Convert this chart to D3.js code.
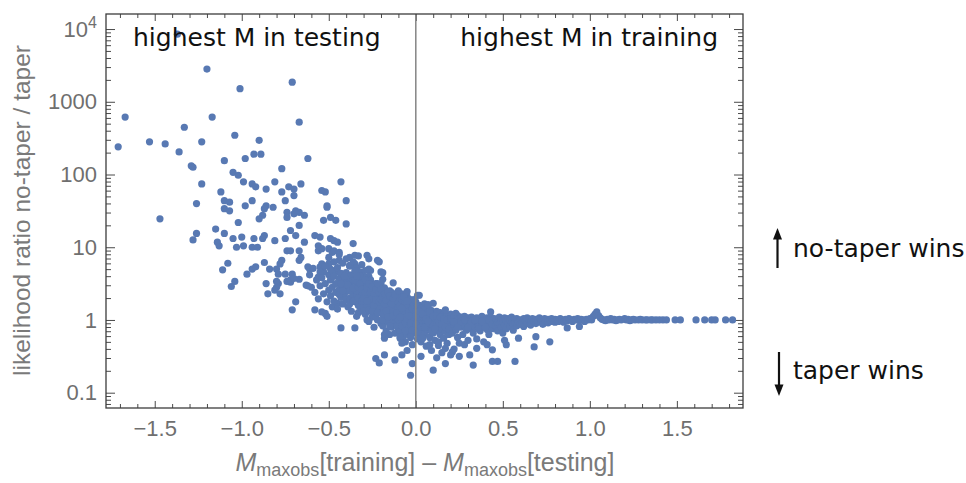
<!DOCTYPE html>
<html>
<head>
<meta charset="utf-8">
<script src="https://cdn.jsdelivr.net/npm/d3@7"></script>
<style>
  body { margin: 0; background: #fff; }
  svg { display: block; }
</style>
</head>
<body>
<svg id="chart" width="966" height="483"></svg>
<script>
// Each point: [M_maxobs(training) - M_maxobs(testing), log10 of likelihood ratio no-taper / taper]

// sparse upper tail: large ratios when the testing set holds the larger event
const tailPoints = [
  [-1.37,3.93],[-1.2,3.45],[-0.71,3.27],[-1.01,3.18],[-1.67,2.79],[-1.17,2.79],[-0.67,2.72],[-1.33,2.65],
  [-1.53,2.45],[-1.44,2.42],[-1.23,2.45],[-1.04,2.54],[-0.9,2.47],[-1.71,2.38],[-1.36,2.31],[-0.98,2.22],
  [-0.93,2.28],[-0.89,2.28],[-0.62,2.22],[-1.1,2.19],[-1.29,2.12],[-1.28,2.1],[-0.77,2.08],[-1.05,2.03],
  [-1.02,1.99],[-1.23,1.87],[-0.99,1.9],[-0.94,1.87],[-0.92,1.83],[-0.81,1.9],[-0.86,1.8],[-0.73,1.83],
  [-0.7,1.8],[-0.66,1.87],[-0.43,1.9],[-1.12,1.76],[-0.54,1.78],[-0.52,1.76],[-0.7,1.71],[-0.77,1.76],
  [-1.1,1.64],[-1.07,1.62],[-0.94,1.64],[-0.75,1.64],[-0.4,1.64],[-1.26,1.6],[-0.98,1.57],[-0.86,1.57],
  [-0.87,1.53],[-0.82,1.55],[-0.51,1.57],[-0.51,1.55],[-1.1,1.53],[-1.07,1.5]
];

// moderate ratios, roughly 2 to 30
const spreadPoints = [
  [-0.74,1.48],[-0.69,1.5],[-0.7,1.46],[-0.67,1.48],[-0.74,1.41],[-0.88,1.44],[-0.9,1.39],[-0.64,1.44],
  [-1.47,1.39],[-0.49,1.41],[-1.02,1.34],[-0.67,1.3],[-0.53,1.37],[-0.46,1.37],[-0.4,1.32],[-1.15,1.25],
  [-0.72,1.23],[-1.26,1.19],[-1.28,1.1],[-1.1,1.19],[-1.05,1.12],[-1.0,1.14],[-0.99,1.02],[-1.03,1.0],
  [-1.14,1.07],[-1.13,1.02],[-0.93,1.12],[-0.94,1.0],[-0.91,1.0],[-0.87,1.16],[-0.88,1.12],[-0.81,1.09],
  [-0.75,1.12],[-0.69,1.16],[-0.64,1.07],[-0.58,1.16],[-0.55,1.14],[-0.56,1.02],[-0.49,1.12],[-0.47,1.09],
  [-0.45,1.07],[-0.36,1.05],[-0.56,0.95],[-0.54,0.98],[-0.5,0.98],[-0.48,0.93],[-0.47,0.95],[-0.44,0.93],
  [-0.38,0.86],[-0.35,0.89],[-0.28,0.89],[-0.27,0.84],[-0.22,0.82],[-0.74,0.95],[-0.72,0.95],[-0.67,0.95],
  [-0.66,0.86],[-0.67,0.82],[-0.61,0.7],[-0.62,0.73],[-0.77,0.82],[-0.78,0.77],[-0.87,0.79],[-0.94,0.7],
  [-0.92,0.73],[-0.97,0.63],[-0.84,0.7],[-0.8,0.7],[-0.79,0.63],[-0.75,0.63],[-0.71,0.63],[-0.67,0.56],
  [-0.72,0.52],[-0.86,0.5],[-0.79,0.5],[-0.8,0.45],[-0.85,0.36],[-0.78,0.36],[-0.62,0.47],[-0.55,0.73],
  [-0.54,0.77],[-0.53,0.66],[-0.5,0.77],[-0.49,0.7],[-0.44,0.82],[-0.38,0.75],[-0.35,0.77],[-0.27,0.7],
  [-0.26,0.68],[-0.32,0.66],[-0.2,0.66],[-0.19,0.56],[-0.56,0.59],[-1.11,0.69],[-1.08,0.78],[-1.06,0.46],
  [-1.04,0.53],[-0.8,0.53],[-0.81,0.41],[-0.74,0.53],[-0.72,0.55],[-0.7,0.57],[-0.71,0.14],[-0.69,0.25],
  [-0.58,0.14],[-0.54,0.11],[-0.52,0.09],[-0.51,0.05],[-0.48,0.18],[-0.45,0.23],[-0.63,0.48],[-0.43,-0.11],
  [-0.35,-0.11],[-0.5,0.86],[-0.47,0.8],[-0.44,0.9],[-0.42,0.78],[-0.4,0.84],[-0.38,0.74],[-0.36,0.8],
  [-0.34,0.72],[-0.31,0.76],[-0.33,0.88],[-0.45,0.66],[-0.29,0.68],[-0.27,0.6]
];

// dense cloud around a difference of zero
const corePoints = [
  [-0.61,0.62],[-0.6,0.45],[-0.59,0.71],[-0.58,0.38],[-0.57,0.55],[-0.56,0.29],[-0.55,0.66],[-0.55,0.47],
  [-0.54,0.58],[-0.53,0.36],[-0.52,0.74],[-0.52,0.5],[-0.51,0.25],[-0.5,0.62],[-0.5,0.41],
  [-0.49,0.55],[-0.49,0.33],[-0.48,0.68],[-0.48,0.45],[-0.47,0.26],[-0.47,0.6],[-0.46,0.5],[-0.46,0.38],
  [-0.45,0.72],[-0.45,0.15],[-0.44,0.57],[-0.44,0.42],[-0.43,0.31],[-0.43,0.64],[-0.42,0.48],[-0.42,0.22],
  [-0.41,0.53],[-0.41,0.36],[-0.4,0.65],[-0.4,0.44],[-0.4,0.28],
  [-0.39,0.58],[-0.39,0.4],[-0.39,0.18],[-0.38,0.5],[-0.38,0.3],[-0.37,0.62],[-0.37,0.45],[-0.37,0.12],
  [-0.36,0.35],[-0.36,0.54],[-0.35,0.25],[-0.35,0.42],[-0.35,0.68],[-0.34,0.48],[-0.34,0.05],[-0.34,0.32],
  [-0.33,0.56],[-0.33,0.2],[-0.32,0.4],[-0.32,0.28],[-0.31,0.5],[-0.31,0.14],[-0.3,0.36],[-0.3,0.6],[-0.3,0.22],
  [-0.29,0.45],[-0.29,0.3],[-0.29,0.08],[-0.28,0.52],[-0.28,0.18],[-0.28,0.38],[-0.27,0.25],[-0.27,-0.02],
  [-0.27,0.44],[-0.26,0.33],[-0.26,0.12],[-0.26,0.55],[-0.25,0.4],[-0.25,0.2],[-0.25,0.04],[-0.24,0.48],
  [-0.24,0.28],[-0.24,-0.1],[-0.23,0.36],[-0.23,0.15],[-0.22,0.42],[-0.22,0.24],[-0.22,0.0],[-0.21,0.31],
  [-0.21,0.1],[-0.2,0.5],[-0.2,0.2],[-0.2,-0.05],
  [-0.19,0.38],[-0.19,0.15],[-0.19,-0.08],[-0.18,0.28],[-0.18,0.05],[-0.18,0.44],[-0.17,0.2],[-0.17,-0.15],
  [-0.17,0.34],[-0.16,0.1],[-0.16,0.25],[-0.16,-0.02],[-0.15,0.4],[-0.15,0.16],[-0.15,-0.2],[-0.14,0.3],
  [-0.14,0.06],[-0.14,-0.1],[-0.13,0.22],[-0.13,0.36],[-0.13,-0.04],[-0.12,0.12],[-0.12,0.28],[-0.12,-0.18],
  [-0.11,0.18],[-0.11,0.02],[-0.11,0.33],[-0.1,0.08],[-0.1,-0.12],[-0.1,0.24],
  [-0.09,0.3],[-0.09,0.1],[-0.09,-0.06],[-0.09,-0.25],[-0.08,0.2],[-0.08,0.0],[-0.08,0.36],[-0.07,0.14],
  [-0.07,-0.14],[-0.07,0.26],[-0.06,0.05],[-0.06,-0.3],[-0.06,0.18],[-0.05,0.32],[-0.05,-0.08],[-0.05,0.1],
  [-0.04,-0.2],[-0.04,0.22],[-0.04,0.02],[-0.03,0.15],[-0.03,-0.12],[-0.03,0.28],[-0.02,0.06],[-0.02,-0.04],
  [-0.02,-0.34],[-0.01,0.2],[-0.01,-0.18],[-0.01,0.1],[0.0,0.0],[0.0,0.25],
  [0.01,0.14],[0.01,-0.08],[0.01,-0.26],[0.02,0.05],[0.02,0.2],[0.02,-0.15],[0.03,-0.02],[0.03,0.1],
  [0.03,-0.3],[0.04,0.16],[0.04,-0.1],[0.04,0.02],[0.05,-0.2],[0.05,0.08],[0.05,0.22],[0.06,-0.05],
  [0.06,0.12],[0.06,-0.36],[0.07,0.03],[0.07,-0.14],[0.07,0.18],[0.08,-0.24],[0.08,0.07],[0.08,-0.04],
  [0.09,0.13],[0.09,-0.1],[0.09,-0.42],[0.1,0.02],[0.1,-0.18],[0.1,0.1],
  [0.11,-0.06],[0.11,0.08],[0.11,-0.28],[0.12,0.0],[0.12,-0.15],[0.12,0.12],[0.13,-0.08],[0.13,0.05],
  [0.13,-0.35],[0.14,-0.2],[0.14,0.1],[0.14,-0.02],[0.15,0.04],[0.15,-0.12],[0.15,-0.45],[0.16,0.08],
  [0.16,-0.05],[0.16,-0.25],[0.17,0.0],[0.17,-0.16],[0.18,0.06],[0.18,-0.08],[0.18,-0.32],[0.19,0.02],
  [0.19,-0.2],[0.2,-0.04],[0.2,0.08],[0.2,-0.12],
  [-0.34,0.4],[-0.33,0.1],[-0.32,0.6],[-0.31,0.34],[-0.3,0.46],[-0.29,0.2],[-0.28,0.0],[-0.27,0.34],
  [-0.26,0.22],[-0.26,0.46],[-0.25,0.3],[-0.24,0.12],[-0.23,0.5],[-0.23,0.04],[-0.22,0.33],[-0.21,0.18],
  [-0.21,0.45],[-0.2,0.1],[-0.2,0.36],[-0.19,0.24],[-0.19,0.0],[-0.18,0.15],[-0.18,-0.2],[-0.17,0.4],
  [-0.17,0.06],[-0.16,0.32],[-0.16,0.17],[-0.15,0.06],[-0.15,0.26],[-0.14,0.15],[-0.14,0.38],[-0.13,0.0],
  [-0.13,0.12],[-0.12,0.2],[-0.12,0.04],[-0.11,-0.08],[-0.11,0.26],[-0.1,0.16],[-0.1,0.0],[-0.1,0.32],
  [-0.09,-0.15],[-0.09,0.2],[-0.08,0.1],[-0.08,-0.08],[-0.08,0.28],[-0.07,0.04],[-0.07,-0.22],[-0.06,0.24],
  [-0.06,-0.04],[-0.06,0.12],[-0.05,0.0],[-0.05,0.18],[-0.04,-0.1],[-0.04,0.12],[-0.03,0.06],[-0.03,-0.24],
  [-0.02,0.15],[-0.02,0.24],[-0.01,0.02],[-0.01,-0.08],[0.0,0.12],[0.0,-0.14],[0.01,0.04],[0.01,0.2],
  [0.02,-0.05],[0.02,-0.22],[0.03,0.16],[0.03,0.04],[0.04,-0.04],[0.04,-0.18],[0.05,0.0],[0.05,0.14],
  [0.06,0.06],[0.06,-0.12],[0.07,-0.06],[0.07,0.1],[0.08,0.0],[0.08,0.14],[0.09,-0.02],[0.09,0.05],
  [0.1,-0.08],[0.11,0.02],[0.12,-0.05],
  [0.07,0.21],[0.1,0.23],[0.02,0.34],[0.17,0.14],[0.23,0.09],[0.43,0.11],[-0.21,0.8],[-0.19,0.65],
  [-0.13,0.51],[-0.05,0.39],[0.01,0.34],
  [-0.44,0.35],[-0.43,0.5],[-0.42,0.4],[-0.41,0.6],[-0.39,0.48],[-0.38,0.22],[-0.38,0.4],[-0.36,0.44],
  [-0.36,0.26],[-0.35,0.55],[-0.34,0.6],[-0.33,0.45],[-0.33,0.3],[-0.32,0.5],[-0.32,0.18],[-0.31,0.42],
  [-0.31,0.26],[-0.3,0.3],[-0.3,0.12],[-0.29,0.38],[-0.29,0.55],[-0.28,0.26],[-0.28,0.44],[-0.27,0.14],
  [-0.27,0.5],[-0.26,0.38],[-0.25,0.12],[-0.25,0.46],[-0.24,0.36],[-0.24,0.2],[-0.23,0.28],[-0.23,0.42],
  [-0.22,0.1],[-0.22,0.5],[-0.21,0.38],[-0.21,0.25],[-0.2,0.28],[-0.2,0.42],[-0.19,0.32],[-0.19,0.08],
  [-0.18,0.36],[-0.18,0.22],[-0.17,0.12],[-0.17,0.27],[-0.16,0.38],[-0.16,0.04],[-0.15,0.33],[-0.15,-0.08],
  [-0.14,0.22],[-0.13,0.3],[-0.13,0.06],[-0.12,0.35],[-0.11,0.1],[-0.1,0.4],[-0.09,0.04],[-0.08,0.16],
  [-0.07,0.32],[-0.06,-0.15],[-0.05,0.26],[-0.04,0.06],[-0.03,-0.04],[-0.02,-0.14],[-0.01,0.28],[0.0,0.06],
  [0.0,-0.06],[0.01,-0.16],[0.02,0.12],[0.03,-0.1],[0.04,0.08],[0.05,-0.1],[0.06,0.02],[0.07,-0.02],
  [0.08,0.1],[0.09,-0.16],[0.1,0.05],[0.11,-0.12],[0.12,0.06],[0.13,-0.02],[0.14,0.04],[0.15,-0.06],
  [0.16,0.02],[0.17,-0.1],[0.18,0.0],[0.19,-0.12],[0.2,0.02]
];

// points below the cloud, where the tapered model does better
const lowerPoints = [
  [-0.21,-0.59],[-0.23,-0.53],[-0.18,-0.48],[-0.08,-0.48],[-0.18,-0.25],[-0.09,-0.23],[-0.08,-0.32],
  [-0.03,-0.76],[0.1,-0.69],[0.17,-0.6],[0.33,-0.62],[0.44,-0.57],[0.47,-0.57],[0.57,-0.57],[0.68,-0.37],
  [0.77,-0.3],[0.87,-0.11],[0.94,-0.09],[0.69,-0.23],[0.59,-0.25],[0.04,-0.25],[0.08,-0.34],[0.13,-0.3],
  [0.17,-0.39],[0.21,-0.44],[0.25,-0.32],[0.31,-0.48],[0.35,-0.39],[0.41,-0.34],[0.44,-0.41],[0.51,-0.28],
  [0.52,-0.34],[-0.12,-0.55],[-0.02,-0.6],[0.03,-0.5],[0.12,-0.52],[0.2,-0.48],[-0.05,-0.42]
];

// narrowing band near a ratio of one when training holds the larger event
const plateauPoints = [
  [0.21,0.0],[0.21,-0.18],[0.22,0.05],[0.22,-0.08],[0.22,-0.4],[0.23,-0.02],[0.23,-0.14],[0.24,0.06],
  [0.24,-0.24],[0.25,-0.05],[0.25,0.02],[0.25,-0.5],[0.26,-0.1],[0.26,0.04],[0.27,-0.03],[0.27,-0.2],
  [0.28,0.05],[0.28,-0.08],[0.28,-0.34],[0.29,-0.01],[0.29,-0.14],[0.3,0.03],[0.3,-0.06],[0.3,-0.28],
  [0.31,-0.02],[0.31,-0.12],[0.32,0.04],[0.32,-0.06],[0.33,-0.18],[0.33,0.01],[0.34,-0.04],[0.34,-0.1],
  [0.35,0.03],[0.35,-0.26],[0.36,-0.02],[0.36,-0.08],[0.37,0.02],[0.37,-0.15],[0.38,-0.05],[0.38,0.05],
  [0.39,-0.1],[0.39,-0.3],[0.4,0.0],[0.4,-0.06],[0.41,-0.13],[0.41,0.03],[0.42,-0.03],[0.42,-0.2],
  [0.43,0.04],[0.43,-0.08],[0.44,-0.01],[0.44,-0.12],[0.45,0.02],[0.45,-0.05],
  [0.22,-0.03],[0.24,-0.1],[0.26,-0.02],[0.28,0.0],[0.3,-0.1],[0.32,-0.02],[0.34,0.0],[0.36,-0.12],
  [0.38,-0.02],[0.4,-0.1],[0.42,0.0],[0.44,-0.06],[0.46,-0.03],[0.48,-0.1],[0.5,0.02],[0.52,-0.04],[0.54,-0.02],
  [0.46,-0.08],[0.46,0.01],[0.47,-0.03],[0.47,-0.15],[0.48,0.04],[0.48,-0.06],[0.49,-0.1],[0.49,0.0],
  [0.5,-0.02],[0.5,-0.18],[0.51,0.03],[0.51,-0.07],[0.52,-0.01],[0.52,-0.12],[0.53,0.02],[0.53,-0.05],
  [0.54,-0.09],[0.54,0.0],[0.55,-0.03],[0.55,0.04],[0.56,-0.06],[0.56,-0.14],[0.57,0.01],[0.57,-0.04],
  [0.58,-0.08],[0.58,0.02],[0.59,-0.02],[0.6,0.0],[0.6,-0.06],
  [0.61,-0.04],[0.62,0.02],[0.62,-0.09],[0.63,-0.01],[0.64,-0.05],[0.64,0.03],[0.65,0.0],[0.66,-0.03],
  [0.66,-0.07],[0.67,0.02],[0.68,-0.02],[0.69,0.01],[0.69,-0.05],[0.7,-0.01],[0.71,0.03],[0.72,-0.03],
  [0.72,0.0],[0.73,-0.06],[0.74,0.02],[0.75,-0.01],[0.76,0.01],[0.76,-0.04],[0.77,0.0],[0.78,0.02],
  [0.78,-0.02],[0.79,0.0],[0.8,-0.03],[0.8,0.01],
  [0.81,0.0],[0.82,-0.02],[0.83,0.02],[0.84,0.0],[0.85,-0.03],[0.86,0.01],[0.87,-0.01],[0.88,0.02],
  [0.89,0.0],[0.9,-0.02],[0.91,0.01],[0.92,0.0],[0.93,0.02],[0.94,-0.01],[0.95,0.01],[0.96,0.0],
  [0.97,-0.02],[0.98,0.01],[0.99,0.0],[1.0,0.02],[1.01,0.0],[1.02,0.05],[1.03,0.08],[1.04,0.11],
  [1.05,0.06],[1.06,0.03],[1.07,0.01],[1.08,0.0],[1.09,-0.01],[1.1,0.01],
  [1.11,0.0],[1.12,0.02],[1.13,0.0],[1.14,0.01],[1.15,-0.01],[1.16,0.0],[1.17,0.01],[1.18,0.0],
  [1.2,0.02],[1.21,0.0],[1.22,0.01],[1.23,-0.01],[1.24,0.0],[1.25,0.01],[1.26,0.0],[1.28,0.0],
  [1.29,0.01],[1.3,0.0],[1.32,0.0],[1.33,0.0],[1.35,0.0],[1.36,0.0],[1.38,0.0],[1.4,0.0],[1.42,0.0],
  [1.44,0.0],[1.49,0.0],[1.52,0.0],[1.61,0.0],[1.66,0.0],[1.7,0.0],[1.72,0.0],[1.78,0.0],[1.82,0.0]
];

const xTickValues = [-1.5, -1.0, -0.5, 0.0, 0.5, 1.0, 1.5];
const yTickValues = [0.1, 1, 10, 100, 1000, 10000];
const yTickLabels = ["0.1", "1", "10", "100", "1000", "10^4"];

const svg = d3.select("#chart");
const frame = { left: 106, right: 743, top: 14, bottom: 408 };

const x = d3.scaleLinear().domain([-1.78, 1.88]).range([frame.left, frame.right]);
const y = d3.scaleLog().domain([0.0616, 16100]).range([frame.bottom, frame.top]);

const tickFont = "'Liberation Sans', Arial, sans-serif";
const labelGray = "#6f6f6f";
const tickColor = "#4a4a4a";

// minor ticks
const xMinor = d3.range(-17, 19).map(i => i / 10).filter(v => Math.abs(v * 2 - Math.round(v * 2)) > 1e-6);
const yMinor = [];
for (let k = -2; k <= 4; k++) {
  for (let m = 2; m <= 9; m++) {
    const v = m * Math.pow(10, k);
    if (v > y.domain()[0] && v < y.domain()[1]) yMinor.push(v);
  }
}

function styleAxis(g) {
  g.select(".domain").remove();
  g.selectAll(".tick line").attr("stroke", tickColor).attr("stroke-width", 1);
  g.selectAll(".tick text").attr("fill", labelGray).attr("font-family", tickFont).attr("font-size", 22);
}

// bottom axis with labels
const fmtX = d => (d < 0 ? "\u2212" : "") + d3.format(".1f")(Math.abs(d));
svg.append("g").attr("transform", `translate(0,${frame.bottom})`)
  .call(d3.axisBottom(x).tickValues(xTickValues).tickSize(-7).tickPadding(12).tickFormat(fmtX))
  .call(styleAxis);
svg.append("g").attr("transform", `translate(0,${frame.bottom})`)
  .call(d3.axisBottom(x).tickValues(xMinor).tickSize(-4).tickFormat(""))
  .call(styleAxis);
// top mirror
svg.append("g").attr("transform", `translate(0,${frame.top})`)
  .call(d3.axisTop(x).tickValues(xTickValues).tickSize(-7).tickFormat(""))
  .call(styleAxis);
svg.append("g").attr("transform", `translate(0,${frame.top})`)
  .call(d3.axisTop(x).tickValues(xMinor).tickSize(-4).tickFormat(""))
  .call(styleAxis);

// left axis with labels
const yAxisG = svg.append("g").attr("transform", `translate(${frame.left},0)`)
  .call(d3.axisLeft(y).tickValues(yTickValues).tickSize(-9).tickPadding(9).tickFormat((d, i) => yTickLabels[i]))
  .call(styleAxis);
yAxisG.selectAll(".tick text").each(function (d, i) {
  const lab = yTickLabels[i];
  if (lab.includes("^")) {
    const [base, exp] = lab.split("^");
    const t = d3.select(this).text("");
    t.append("tspan").text(base);
    t.append("tspan").attr("font-size", 16).attr("dy", "-0.55em").text(exp);
  }
});
svg.append("g").attr("transform", `translate(${frame.left},0)`)
  .call(d3.axisLeft(y).tickValues(yMinor).tickSize(-5).tickFormat(""))
  .call(styleAxis);
// right mirror
svg.append("g").attr("transform", `translate(${frame.right},0)`)
  .call(d3.axisRight(y).tickValues(yTickValues).tickSize(-9).tickFormat(""))
  .call(styleAxis);
svg.append("g").attr("transform", `translate(${frame.right},0)`)
  .call(d3.axisRight(y).tickValues(yMinor).tickSize(-5).tickFormat(""))
  .call(styleAxis);

// scatter points
const allPoints = [].concat(tailPoints, spreadPoints, corePoints, lowerPoints, plateauPoints);
svg.append("g")
  .selectAll("circle")
  .data(allPoints)
  .join("circle")
  .attr("cx", d => x(d[0]))
  .attr("cy", d => y(Math.pow(10, d[1])))
  .attr("r", 3.6)
  .attr("fill", "#5879b3");

// zero line separating the two regimes
svg.append("line")
  .attr("x1", x(0)).attr("x2", x(0))
  .attr("y1", frame.top).attr("y2", frame.bottom)
  .attr("stroke", "#858585").attr("stroke-width", 1.5);

// plot frame
svg.append("rect")
  .attr("x", frame.left).attr("y", frame.top)
  .attr("width", frame.right - frame.left).attr("height", frame.bottom - frame.top)
  .attr("fill", "none").attr("stroke", "#3c3c3c").attr("stroke-width", 1.3);

// axis titles
svg.append("text")
  .attr("transform", `translate(30,${(43 + 378) / 2}) rotate(-90)`)
  .attr("text-anchor", "middle")
  .attr("font-family", tickFont).attr("font-size", 24.5).attr("fill", "#7a7a7a")
  .text("likelihood ratio no-taper / taper");

const xTitle = svg.append("text")
  .attr("x", (236 + 614) / 2).attr("y", 471)
  .attr("text-anchor", "middle")
  .attr("font-family", tickFont).attr("font-size", 25).attr("fill", "#7a7a7a");
xTitle.append("tspan").attr("font-style", "italic").text("M");
xTitle.append("tspan").attr("font-size", 18).attr("dy", 5).text("maxobs");
xTitle.append("tspan").attr("dy", -5).text("[training] \u2013 ");
xTitle.append("tspan").attr("font-style", "italic").text("M");
xTitle.append("tspan").attr("font-size", 18).attr("dy", 5).text("maxobs");
xTitle.append("tspan").attr("dy", -5).text("[testing]");

// region annotations
const noteFont = "'DejaVu Sans', sans-serif";
const noteSize = 25;
svg.append("text").attr("x", 133).attr("y", 46)
  .attr("font-family", noteFont).attr("font-size", noteSize).attr("fill", "#111")
  .text("highest M in testing");
svg.append("text").attr("x", 718).attr("y", 46).attr("text-anchor", "end")
  .attr("font-family", noteFont).attr("font-size", noteSize).attr("fill", "#111")
  .text("highest M in training");
svg.append("text").attr("x", 793).attr("y", 257)
  .attr("font-family", noteFont).attr("font-size", noteSize).attr("fill", "#111")
  .text("no-taper wins");
svg.append("text").attr("x", 793).attr("y", 379)
  .attr("font-family", noteFont).attr("font-size", noteSize).attr("fill", "#111")
  .text("taper wins");

// direction arrows
const arrows = svg.append("g").attr("fill", "#111").attr("stroke", "#111");
arrows.append("line").attr("x1", 777.5).attr("x2", 777.5).attr("y1", 268).attr("y2", 236).attr("stroke-width", 2.2);
arrows.append("path").attr("stroke", "none").attr("d", "M777.5,228 L773,239.5 L782,239.5 Z");
arrows.append("line").attr("x1", 779).attr("x2", 779).attr("y1", 352).attr("y2", 388).attr("stroke-width", 2.2);
arrows.append("path").attr("stroke", "none").attr("d", "M779,396 L774.5,384.5 L783.5,384.5 Z");
</script>
</body>
</html>
